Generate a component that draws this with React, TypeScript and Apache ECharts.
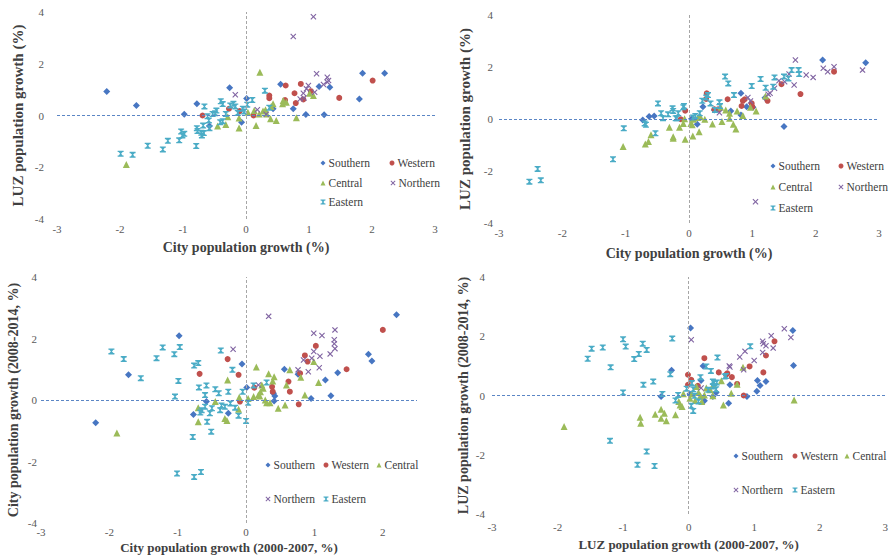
import React, { useEffect, useRef } from "react";
import * as echarts from "echarts";

const FONT = "Liberation Serif";

const REGIONS = ["Southern", "Western", "Central", "Northern", "Eastern"];
const COLORS = ["#4776C2", "#C0504D", "#9BBB59", "#8064A2", "#4BACC6"];
const X_PATH = "path://M0,1.3L1.3,0L5,3.7L8.7,0L10,1.3L6.3,5L10,8.7L8.7,10L5,6.3L1.3,10L0,8.7L3.7,5Z";
const STAR_PATH = "path://M0,0H10V2.2H8.4L5.9,5L8.4,7.8H10V10H0V7.8H1.6L4.1,5L1.6,2.2H0Z";
const SYMBOLS = ["diamond", "circle", "triangle", X_PATH, STAR_PATH];
const SIZES = [7, 6, 7, 6, 6];

const yTicks = [-4, -2, 0, 2, 4];
const xTicks = [-3, -2, -1, 0, 1, 2, 3];

// Panel 1: City vs LUZ population growth (period 1)
const p1Southern = [[-2.21,0.93],[-1.74,0.39],[-0.98,0.05],[-0.78,0.45],[-0.26,1.07],[-0.58,-0.41],[-0.07,-0.26],[0.01,0.66],[0.55,1.21],[0.43,0.26],[0.75,0.26],[0.95,0.04],[1.16,1.12],[1.33,1.09],[1.24,0.03],[1.85,1.63],[2.2,1.63],[1.8,0.64]];
const p1Western = [[-0.69,0.0],[-0.27,0.26],[-0.1,0.17],[0.12,0.0],[0.37,0.77],[0.37,0.67],[0.63,1.16],[0.62,0.6],[0.77,0.86],[0.79,0.48],[0.87,1.22],[1.03,0.94],[0.91,0.62],[1.48,0.68],[2.01,1.35]];
const p1Central = [[-1.9,-1.89],[-0.45,-0.41],[-0.32,-0.35],[-0.29,-0.05],[-0.11,-0.1],[-0.11,-0.48],[0.03,0.13],[0.13,0.19],[0.16,-0.39],[0.22,1.67],[0.21,0.06],[0.27,0.17],[0.31,0.22],[0.39,-0.13],[0.4,0.35],[0.48,-0.19],[0.58,0.45],[0.59,0.58],[0.64,0.51],[0.8,-0.09],[1.01,0.86],[1.07,0.77],[0.43,0.45],[0.33,0.06]];
const p1Northern = [[1.07,3.82],[0.75,3.05],[-0.17,0.8],[0.18,0.22],[0.32,0.05],[1.12,1.61],[1.29,1.48],[1.29,1.29],[1.31,1.35],[1.23,1.2],[0.99,1.16],[0.96,1.03],[0.91,0.86],[0.86,0.64],[1.09,0.9],[0.92,0.68]];
const p1Eastern = [[-1.99,-1.48],[-1.8,-1.52],[-1.56,-1.17],[-1.32,-1.31],[-1.24,-0.98],[-1.06,-0.96],[-1.03,-0.62],[-0.98,-0.71],[-1.01,-0.77],[-0.79,-1.18],[-0.78,-0.49],[-0.77,-0.6],[-0.71,-0.67],[-0.7,-0.77],[-0.67,-0.68],[-0.68,-0.39],[-0.66,0.35],[-0.61,-0.03],[-0.59,-0.19],[-0.58,-0.49],[-0.53,0.06],[-0.49,0.09],[-0.47,0.19],[-0.4,0.55],[-0.37,0.44],[-0.41,-0.26],[-0.37,-0.22],[-0.32,0.06],[-0.25,0.39],[-0.2,0.45],[-0.17,0.35],[-0.13,0.1],[-0.05,0.26],[-0.03,0.15],[0.02,0.42],[0.1,0.6],[0.3,0.96],[0.37,0.3]];

// Panel 2: City vs LUZ population growth (period 2)
const p2Southern = [[-0.73,-0.04],[-0.63,0.1],[-0.55,0.12],[0.13,-0.2],[0.22,0.47],[0.66,0.31],[0.82,0.99],[0.82,0.15],[0.91,0.47],[1.01,0.45],[1.2,0.82],[1.5,-0.29],[2.11,2.27],[2.79,2.16],[0.04,0.01],[0.4,0.35]];
const p2Western = [[-0.13,-0.01],[-0.06,0.32],[0.28,0.99],[0.27,0.77],[0.4,0.37],[0.46,0.37],[0.61,0.76],[0.83,0.5],[0.85,0.7],[0.88,0.76],[0.99,0.6],[1.0,0.47],[1.24,0.7],[1.46,1.34],[1.76,0.96],[2.29,1.82]];
const p2Central = [[-1.04,-1.06],[-0.69,-0.96],[-0.64,-0.87],[-0.6,-0.61],[-0.31,-0.32],[-0.25,-0.68],[-0.25,-0.74],[-0.15,-0.32],[-0.09,-0.17],[-0.07,0.01],[-0.06,-0.78],[0.03,-0.17],[0.05,-0.22],[0.06,-0.65],[0.07,-0.01],[0.14,0.06],[0.16,-0.49],[0.18,0.09],[0.25,-0.01],[0.37,-0.19],[0.5,0.45],[0.52,-0.1],[0.58,0.35],[0.64,0.22],[0.64,0.03],[0.7,-0.2],[0.74,-0.38],[0.76,0.31],[0.85,0.13],[0.97,0.45],[1.06,0.31],[1.21,0.88]];
const p2Northern = [[0.48,0.24],[0.93,0.83],[0.97,0.69],[1.25,0.95],[1.28,0.99],[1.35,1.18],[1.42,1.47],[1.51,1.43],[1.58,1.73],[1.66,1.31],[1.68,2.27],[1.85,1.69],[1.96,1.6],[2.12,1.95],[2.19,1.82],[2.29,2.01],[2.74,1.88],[1.05,-3.18]];
const p2Eastern = [[-2.52,-2.41],[-2.39,-1.92],[-2.34,-2.36],[-1.2,-1.55],[-1.03,-0.36],[-0.7,-0.17],[-0.68,-0.22],[-0.53,-0.55],[-0.49,0.6],[-0.44,0.22],[-0.41,0.03],[-0.33,0.18],[-0.26,0.41],[-0.25,0.31],[-0.21,0.03],[-0.19,0.03],[-0.17,0.22],[-0.09,0.45],[-0.08,0.5],[0.06,0.06],[0.1,0.12],[0.17,0.22],[0.21,0.7],[0.27,0.83],[0.3,0.92],[0.34,0.6],[0.41,0.35],[0.48,0.64],[0.49,0.5],[0.57,1.63],[0.62,1.37],[0.71,0.92],[0.99,1.27],[1.13,1.54],[1.21,1.2],[1.35,1.6],[1.33,1.24],[1.5,1.63],[1.57,1.56],[1.62,1.88],[1.73,1.88],[1.74,1.73]];

// Panel 3: City growth 2000-2007 vs 2008-2014
const p3Southern = [[-2.2,-0.74],[-1.72,0.82],[-0.98,2.09],[-0.77,-0.47],[-0.58,-0.05],[-0.26,-0.43],[-0.06,1.17],[0.01,0.41],[0.4,0.22],[0.42,0.13],[0.41,-0.03],[0.56,1.0],[0.76,0.84],[0.95,0.05],[1.16,0.65],[1.24,0.14],[1.34,0.89],[1.79,1.49],[1.84,1.27],[2.2,2.77]];
const p3Western = [[-0.68,0.85],[-0.27,1.33],[-0.11,0.82],[-0.09,-0.05],[0.12,0.4],[0.38,0.43],[0.39,0.27],[0.62,0.6],[0.64,0.27],[0.77,-0.14],[0.79,0.87],[0.86,1.45],[0.9,1.25],[1.02,1.76],[1.47,1.0],[2.0,2.28]];
const p3Central = [[-1.89,-1.07],[-0.7,-0.25],[-0.7,-0.71],[-0.45,-0.05],[-0.31,-0.6],[-0.28,-0.67],[-0.27,0.65],[-0.1,0.09],[-0.11,-0.3],[0.03,0.05],[0.11,0.11],[0.15,1.07],[0.18,0.16],[0.2,0.13],[0.21,0.27],[0.23,0.49],[0.25,0.38],[0.28,0.0],[0.3,-0.09],[0.33,0.85],[0.35,-0.09],[0.39,0.62],[0.41,0.76],[0.47,-0.27],[0.57,-0.16],[0.59,0.49],[0.64,0.98],[0.8,0.74],[0.86,0.16],[0.99,1.25],[1.06,0.57]];
const p3Northern = [[-0.19,1.65],[0.18,0.49],[0.33,2.72],[0.76,0.98],[0.84,1.3],[0.91,0.92],[0.96,1.36],[0.99,1.58],[0.99,2.17],[1.07,1.05],[1.08,1.42],[1.11,2.1],[1.23,1.5],[1.29,1.96],[1.29,1.83],[1.3,1.67],[1.3,2.28]];
const p3Eastern = [[-1.97,1.58],[-1.79,1.33],[-1.54,0.71],[-1.31,1.36],[-1.22,1.71],[-1.05,1.49],[-1.04,0.11],[-0.99,0.62],[-0.97,1.72],[-1.01,-2.39],[-0.76,1.12],[-0.7,1.2],[-0.69,0.41],[-0.78,-1.2],[-0.76,-2.5],[-0.66,-2.34],[-0.67,-0.41],[-0.65,-0.33],[-0.6,0.16],[-0.6,-0.22],[-0.58,0.47],[-0.57,-0.71],[-0.53,-0.43],[-0.5,-0.27],[-0.51,-1.03],[-0.45,0.35],[-0.4,0.22],[-0.38,-0.33],[-0.37,1.61],[-0.36,-0.18],[-0.31,-0.22],[-0.26,0.27],[-0.23,-0.11],[-0.2,0.98],[-0.16,-0.25],[-0.11,-0.51],[-0.05,0.27],[0.0,-0.68],[0.03,-0.09],[0.11,0.47],[0.3,0.57]];

// Panel 4: LUZ growth 2000-2007 vs 2008-2014
const p4Southern = [[-0.42,-0.03],[-0.26,0.85],[0.03,2.28],[0.02,0.05],[0.19,0.51],[0.22,1.0],[0.24,-0.18],[0.37,-0.03],[0.42,0.1],[0.61,-0.26],[0.63,0.36],[0.89,-0.03],[1.04,0.14],[1.05,0.51],[1.09,0.34],[1.18,0.47],[1.59,2.19],[1.6,1.01]];
const p4Western = [[-0.01,0.7],[-0.01,0.36],[0.04,0.53],[0.14,0.33],[0.24,1.26],[0.46,0.78],[0.57,0.7],[0.59,0.75],[0.66,0.62],[0.74,0.39],[0.84,0.0],[0.93,0.98],[1.14,0.78],[1.18,1.35],[1.31,1.83]];
const p4Central = [[-1.9,-1.05],[-0.74,-0.73],[-0.73,-0.94],[-0.51,-0.63],[-0.42,-0.46],[-0.42,-0.77],[-0.37,-0.6],[-0.34,-0.85],[-0.2,-0.65],[-0.15,-0.2],[-0.13,-0.32],[-0.1,-0.37],[-0.08,0.06],[0.02,-0.09],[0.05,0.06],[0.1,-0.17],[0.12,0.3],[0.15,0.1],[0.18,-0.01],[0.2,-0.2],[0.24,0.02],[0.27,0.25],[0.33,0.19],[0.37,-0.01],[0.38,0.36],[0.5,0.5],[0.53,-0.32],[0.65,0.08],[0.74,0.38],[0.83,0.95],[1.61,-0.15]];
const p4Northern = [[0.04,1.88],[0.19,0.25],[0.62,1.0],[0.63,0.96],[0.78,1.3],[0.86,1.49],[0.84,0.87],[1.0,1.18],[1.13,1.83],[1.14,1.75],[1.18,1.68],[1.13,1.45],[1.26,2.02],[1.29,1.6],[1.46,2.25],[1.56,1.96]];
const p4Eastern = [[-1.54,1.24],[-1.48,1.58],[-1.31,1.62],[-1.19,0.95],[-1.2,-1.53],[-1.0,1.9],[-1.0,0.1],[-0.96,1.65],[-0.83,1.23],[-0.76,1.4],[-0.78,-2.34],[-0.7,1.75],[-0.69,0.36],[-0.64,1.54],[-0.64,-1.89],[-0.54,0.47],[-0.52,-2.38],[-0.4,0.05],[-0.28,0.72],[-0.25,1.92],[-0.2,-0.17],[-0.16,0.02],[-0.03,0.23],[0.04,-0.35],[0.05,0.42],[0.07,0.21],[0.07,-0.52],[0.09,-0.01],[0.15,-0.2],[0.18,0.62],[0.27,0.98],[0.3,0.19],[0.34,0.83],[0.37,0.47],[0.37,0.3],[0.39,0.42],[0.42,0.21],[0.43,0.44],[0.44,1.28],[0.55,0.64],[0.57,0.66],[0.94,1.66]];

const panelData = [
  [p1Southern, p1Western, p1Central, p1Northern, p1Eastern],
  [p2Southern, p2Western, p2Central, p2Northern, p2Eastern],
  [p3Southern, p3Western, p3Central, p3Northern, p3Eastern],
  [p4Southern, p4Western, p4Central, p4Northern, p4Eastern],
];

const xTitles = [
  "City population growth (%)",
  "City population growth (%)",
  "City population growth (2000-2007, %)",
  "LUZ population growth (2000-2007, %)",
];
const yTitles = [
  "LUZ population growth (%)",
  "LUZ population growth (%)",
  "City population growth (2008-2014, %)",
  "LUZ population growth (2008-2014, %)",
];
const xMax = [3, 3, 2.5, 3];

// layout
const grids = [
  { left: 57, top: 12, width: 378, height: 207 },
  { left: 499, top: 15, width: 380, height: 208 },
  { left: 41, top: 277, width: 376, height: 246 },
  { left: 492, top: 277, width: 394, height: 237 },
];
const xLabelMargin = [4, 4, 3, 7];
const yLabelMargin = [13, 6, 4, 7];
const xNameGap = [21, 23, 18, 24];
const yNameGap = [32, 27, 21, 22];
const xNameSize = [14, 14, 13, 13];
const yNameSize = [15, 15, 14, 14];

// legend item centres [x, y] per panel, per region
const legendPos = [
  [[323, 164], [392, 164], [323, 184], [393, 184], [323, 203]],
  [[773, 167], [841, 167], [773, 188], [841, 188], [773, 209]],
  [[268, 466], [326, 466], [379, 466], [268, 500], [326, 500]],
  [[736, 457], [795, 457], [847, 457], [736, 491], [795, 491]],
];

function buildOption() {
  const series: any[] = [];
  const xAxis: any[] = [];
  const yAxis: any[] = [];
  const legend: any[] = [];
  grids.forEach((g, i) => {
    xAxis.push({
      type: "value",
      gridIndex: i,
      min: xTicks[0],
      max: xMax[i],
      interval: 1,
      axisLine: { show: false },
      axisTick: { show: false },
      splitLine: { show: false },
      axisLabel: {
        margin: xLabelMargin[i],
        fontSize: 11,
        fontFamily: FONT,
        color: "#595959",
        formatter: (v: number) => (Number.isInteger(v) ? String(v) : ""),
      },
      name: xTitles[i],
      nameLocation: "middle",
      nameGap: xNameGap[i],
      nameTextStyle: { fontFamily: FONT, fontWeight: "bold", fontSize: xNameSize[i], color: "#404040" },
    });
    yAxis.push({
      type: "value",
      gridIndex: i,
      min: yTicks[0],
      max: yTicks[yTicks.length - 1],
      interval: 2,
      axisLine: { show: false },
      axisTick: { show: false },
      splitLine: { show: false },
      axisLabel: { margin: yLabelMargin[i], fontSize: 11, fontFamily: FONT, color: "#595959" },
      name: yTitles[i],
      nameLocation: "middle",
      nameGap: yNameGap[i],
      nameTextStyle: { fontFamily: FONT, fontWeight: "bold", fontSize: yNameSize[i], color: "#404040" },
    });
    series.push({
      type: "scatter",
      name: "axes" + i,
      xAxisIndex: i,
      yAxisIndex: i,
      data: [],
      z: 1,
      silent: true,
      markLine: {
        silent: true,
        symbol: "none",
        label: { show: false },
        data: [
          { xAxis: 0, lineStyle: { color: "#A6A6A6", type: [3, 2], width: 1 } },
          { yAxis: 0, lineStyle: { color: "#5B86C5", type: [3, 2], width: 1 } },
        ],
      },
    });
    panelData[i].forEach((d, r) => {
      series.push({
        type: "scatter",
        name: REGIONS[r],
        xAxisIndex: i,
        yAxisIndex: i,
        data: d,
        z: 3,
        symbol: SYMBOLS[r],
        symbolSize: SIZES[r],
        itemStyle: { color: COLORS[r], opacity: 1 },
      });
      const [lx, ly] = legendPos[i][r];
      legend.push({
        left: lx - 2.5,
        top: ly - 7,
        padding: 0,
        itemWidth: 5,
        itemHeight: 5,
        selectedMode: false,
        data: [{ name: REGIONS[r], icon: SYMBOLS[r], itemStyle: { color: COLORS[r] } }],
        textStyle: { fontFamily: FONT, fontSize: 11.5, color: "#404040", padding: [0, 0, 0, -2] },
      });
    });
  });
  return {
    animation: false,
    backgroundColor: "#ffffff",
    grid: grids.map((g) => ({ ...g, containLabel: false })),
    xAxis,
    yAxis,
    legend,
    series,
  };
}

export default function App() {
  const ref = useRef<HTMLDivElement>(null);
  useEffect(() => {
    document.body.style.margin = "0";
    const chart = echarts.init(ref.current!, null, { renderer: "svg" });
    chart.setOption(buildOption() as any);
    return () => chart.dispose();
  }, []);
  return <div ref={ref} style={{ position: "absolute", left: 0, top: 0, width: 891, height: 559 }} />;
}
